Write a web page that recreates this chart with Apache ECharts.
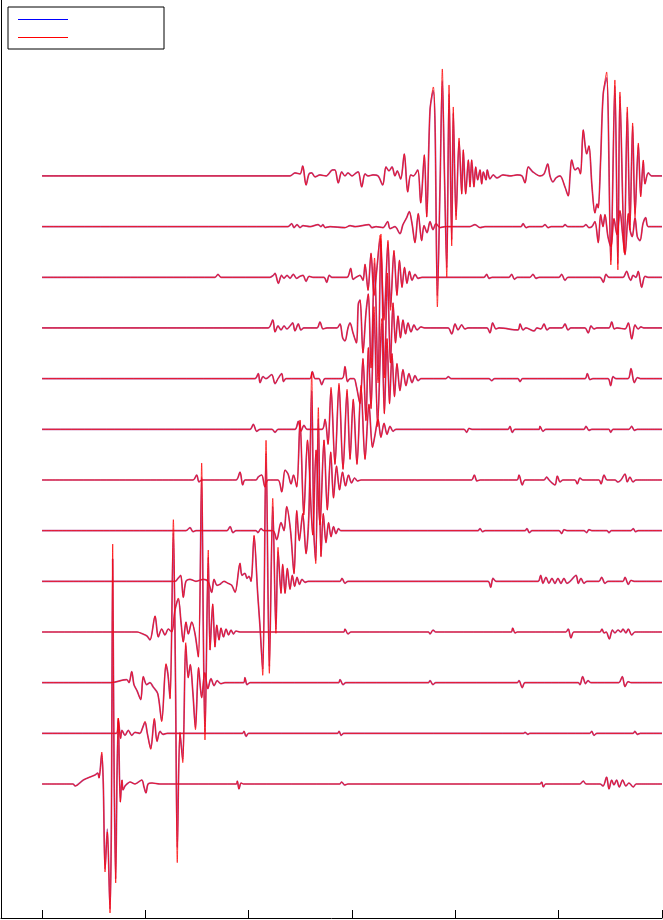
<!DOCTYPE html>
<html>
<head>
<meta charset="utf-8">
<script src="https://cdn.jsdelivr.net/npm/echarts@6.0.0/dist/echarts.min.js"></script>
<style>
  html, body { margin: 0; padding: 0; background: #fff; }
  #chart { width: 663px; height: 920px; }
</style>
</head>
<body>
<div id="chart"></div>
<script>
// each trace: [time, blue amplitude, red amplitude], bottom trace first
const trace00 = [[0,0,0],[30,0,0],[32,-2,-2],[40,4,4],[46.5,7,7],[51.3,9,9],[53.9,11,11],[55.2,6,6],[57.8,30,32],[59.3,0,0],[61,-85,-88],[63.2,-45,-48],[65.8,-125,-129],[67.1,-40,-40],[68.4,225,240],[69.7,20,20],[71.3,-95,-99],[72.6,10,10],[73.8,62,66],[75.8,-18,-18],[77.4,4,4],[78.4,-6,-6],[80.3,-2,-2],[82.2,0,0],[85.2,2,2],[90,0,0],[96.5,4,4],[98.7,-3,-3],[100.6,-9,-9],[102.6,0,0],[106.5,1,1],[114,0,0],[188,0,0],[189,3,3],[190.6,-5,-5],[192.6,1,1],[195,0,0],[288,0,0],[290,2,2],[293,-1,-1],[296,0,0],[482,0,0],[483.6,2,2],[485.1,-3,-3],[487.5,0,0],[520.6,0,0],[523.8,3,3],[526.5,0,0],[540,0,0],[543,-2,-2],[546.4,7,7],[548.7,-5,-5],[551.3,4,4],[553.5,-1,-1],[556.1,4,4],[558.6,-3,-3],[561.9,4,4],[565,-2,-2],[568,1,1],[572.2,-3,-3],[575,0,0],[600,0,0]];
const trace01 = [[0,0,0],[72,0,0],[73.8,14,15],[76,-5,-5],[77.4,3,3],[80.3,-2,-2],[83.5,3,3],[86.8,-2,-2],[90,1,1],[94.8,0,0],[96.8,4,4],[99.7,11,12],[101.9,0,0],[105.2,-15,-16],[108.7,14,15],[111.3,-8,-8],[114.2,2,2],[117.1,-1,-1],[121,0,0],[194,0,0],[195.5,2,2],[197.4,-3,-3],[200,0,0],[286,0,0],[287.5,2,2],[289.5,-2,-2],[292,0,0],[466,0,0],[467.4,1,1],[470.3,-1,-1],[472,0,0],[530,0,0],[532,2,2],[534.2,-2,-2],[537,0,0],[572,0,0],[573.8,2,2],[576,-1,-1],[579,0,0],[600,0,0]];
const trace02 = [[0,0,0],[66,0,0],[82,3,3],[84.2,0,0],[86.8,11,11],[89,-2,-2],[91.9,-8,-8],[95.5,-17,-17],[98,6,6],[101.3,-2,-2],[104.5,0,0],[107.4,-4,-4],[112,-11,-11],[115.8,-38,-39],[120,18,19],[121.9,8,8],[123.9,-16,-16],[127.1,150,163],[129.2,0,0],[130.9,-165,-180],[133.5,-50,-50],[136.2,-77,-80],[139.1,38,40],[141.5,5,5],[143.5,18,18],[146,-10,-10],[148.5,-45,-47],[151.5,15,15],[154.5,-15,-15],[157.5,10,10],[160.5,-6,-6],[163.5,4,4],[166.5,-3,-3],[169.5,2,2],[173,-1,-1],[177,0,0],[195,0,0],[196.4,5,5],[198.4,-2,-2],[201.3,0,0],[287,0,0],[288.4,3,3],[291.3,-2,-2],[294,0,0],[374,0,0],[375.5,2,2],[378.4,-2,-2],[381,0,0],[460,0,0],[461.6,2,2],[464.8,-5,-5],[467.4,0,0],[519,0,0],[520.6,-2,-2],[523.2,6,6],[526,-1,-1],[528.4,2,2],[531.3,0,0],[558,0,0],[559.3,1,1],[561.6,6,6],[564.2,-4,-4],[567.1,1,1],[570,0,0],[600,0,0]];
const trace03 = [[0,0,0],[92,0,0],[97.7,-2,-2],[101.6,-4,-4],[104.5,-8,-8],[109.4,16,16],[112.5,-5,-5],[115.8,3,3],[119,-3,-3],[122.2,3,3],[125.5,0,0],[128.7,22,22],[131.9,33,34],[134.5,10,10],[136.7,-10,-10],[139.3,10,10],[141.6,-2,-2],[144.9,10,10],[148.1,-2,-2],[151.3,-25,-25],[154.5,155,169],[156.1,0,0],[157.7,-100,-108],[160.9,75,82],[162.6,-18,-18],[165.2,28,28],[167.4,-15,-15],[169.1,7,7],[171.3,-8,-8],[173.2,4,4],[175.6,-5,-5],[178.1,3,3],[180.5,-3,-3],[182.9,2,2],[185.3,-2,-2],[187.7,1,1],[191.6,0,0],[292,0,0],[293.2,3,3],[296.1,-2,-2],[299,0,0],[374,0,0],[375.5,-2,-2],[378.4,2,2],[381,0,0],[454,0,0],[455.5,4,4],[457.7,-1,-1],[460,0,0],[507,0,0],[509.3,3,3],[511.9,-6,-6],[514.8,0,0],[540,0,0],[541.9,3,3],[543.8,-1,-1],[546,0,0],[549,-7,-7],[552,2,2],[554.5,-1,-1],[557.4,2,2],[560.3,0,0],[562.2,3,3],[565.1,-1,-1],[567.4,3,3],[570.7,-3,-3],[573.9,0,0],[600,0,0]];
const trace04 = [[0,0,0],[128.7,0,0],[131.6,3,3],[134.2,6,6],[136.7,-16,-16],[139.3,0,0],[143.2,2,2],[149,0,0],[156.1,2,2],[160.6,0,0],[164.2,-11,-11],[166.5,2,2],[169.4,-4,-4],[172.3,-3,-3],[176.1,0,0],[180,-2,-2],[183.6,-4,-4],[186.8,-11,-11],[191.6,18,18],[193.5,6,6],[196.4,8,8],[198.4,3,3],[200.3,5,5],[202.3,0,0],[205.2,45,46],[208.7,-12,-12],[211,-46,-46],[213.6,-88,-94],[216.8,128,141],[220,-85,-92],[223.3,75,83],[226.4,-48,-52],[228.4,30,34],[231.3,-12,-12],[232.9,17,17],[235.2,-12,-12],[237.4,13,13],[240,-8,-8],[242.2,6,6],[244.5,-5,-5],[246.8,4,4],[249.2,-3,-3],[251.6,2,2],[254.5,-1,-1],[257.4,0,0],[288.4,0,0],[290.3,3,3],[293.2,-2,-2],[296.1,0,0],[431.6,0,0],[434.2,-6,-6],[436.4,3,3],[439.3,0,0],[480,0,0],[482.6,6,6],[484.8,-2,-2],[487.7,4,4],[490.6,-2,-2],[493.5,3,3],[496.4,-2,-2],[499.3,3,3],[502.2,-2,-2],[505.1,3,3],[508,-2,-2],[511,0,0],[516.8,6,6],[519,-2,-2],[521.6,3,3],[524.5,-2,-2],[527.4,0,0],[539,0,0],[541.6,4,4],[544.8,-2,-2],[547.7,0,0],[562.2,0,0],[564.2,4,4],[567.4,-3,-3],[570,1,1],[572.9,0,0],[600,0,0]];
const trace05 = [[0,0,0],[139.3,0,0],[143.2,3,3],[146.1,-1,-1],[149,0,0],[179,0,0],[182,4,4],[184.8,-2,-2],[187.7,0,0],[207.1,0,0],[209,-2,-2],[211.9,2,2],[214.8,0,0],[223.5,0,0],[227.1,-9,-9],[231.3,8,8],[234.2,0,0],[236.8,24,24],[240.5,0,0],[243.9,-43,-43],[246.5,20,20],[249,-10,-10],[252.3,17,17],[255.5,-23,-23],[258.2,15,15],[261,140,158],[263,0,0],[264.9,-30,-33],[267.4,112,123],[270,-26,-26],[272.2,17,17],[274.8,-12,-12],[277.3,8,8],[279.7,-6,-6],[282.1,4,4],[284.5,-3,-3],[286.9,2,2],[289.3,0,0],[421.9,0,0],[423.9,2,2],[426.3,-1,-1],[428.7,0,0],[467.4,0,0],[469.3,2,2],[471.6,-2,-2],[474.2,0,0],[500.3,0,0],[502.9,-3,-3],[505.1,1,1],[508,0,0],[524.5,0,0],[527.1,-2,-2],[529.3,1,1],[532,0,0],[546.8,0,0],[548.7,-2,-2],[551,0,0],[569.9,0,0],[572.2,2,2],[574.3,-1,-1],[576.8,0,0],[600,0,0]];
const trace06 = [[0,0,0],[146.1,0,0],[149.7,5,5],[151.9,-2,-2],[154.8,0,0],[187.7,0,0],[191.6,8,8],[194.2,-5,-5],[196.4,0,0],[207.1,0,0],[209.3,3,3],[212.6,5,5],[215.8,-7,-7],[218.7,0,0],[228.4,0,0],[232,-12,-12],[235.2,10,10],[238.1,6,6],[241,-4,-4],[243.4,5,5],[246.5,-7,-7],[249.7,59,60],[253.3,-35,-35],[256.9,40,40],[262,-55,-55],[265.2,30,30],[269,-45,-45],[272.9,40,40],[276.1,-30,-30],[279.4,28,28],[282.1,-18,-18],[285,14,14],[287.9,-10,-10],[290.8,8,8],[293.7,-6,-6],[296.6,5,5],[299.5,-3,-3],[302.5,2,2],[305.3,-1,-1],[308.7,0,0],[415.6,0,0],[418.4,5,5],[420.9,-1,-1],[424,0,0],[459.7,0,0],[461.6,5,5],[464.8,-5,-5],[467.4,0,0],[485.8,0,0],[488.4,3,3],[490.6,0,0],[496.4,-5,-5],[498.7,4,4],[501.3,-2,-2],[504.2,0,0],[515.8,0,0],[518,-4,-4],[520.6,2,2],[523.5,0,0],[539,0,0],[541,-4,-4],[543.9,5,5],[546.8,0,0],[554.5,0,0],[557.4,-2,-2],[560.3,0,0],[564.2,6,6],[566.4,-2,-2],[569,3,3],[571.9,-2,-2],[574.8,0,0],[600,0,0]];
const trace07 = [[0,0,0],[201.3,0,0],[204.5,5,5],[207.7,-2,-2],[211,0,0],[222.6,0,0],[225.5,-3,-3],[228.4,0,0],[244.8,0,0],[248,8,8],[250.6,-2,-2],[253.5,4,4],[256.4,0,0],[271,0,0],[273.9,10,10],[276.8,-15,-15],[279.7,40,42],[283.5,-35,-35],[287.4,44,46],[291.3,-40,-40],[295.2,38,40],[298.1,-30,-30],[301.2,30,30],[304.8,-35,-35],[308.7,42,44],[312.6,-30,-30],[316.4,25,25],[319.8,-18,-18],[322.2,-6,-6],[325.2,10,10],[328,-8,-8],[331,6,6],[333.9,-5,-5],[336.8,3,3],[339.7,-2,-2],[342.6,0,0],[408.4,0,0],[411,-3,-3],[413.2,1,1],[416,0,0],[451,0,0],[452.9,3,3],[455.1,-3,-3],[457.7,0,0],[481,0,0],[481.9,3,3],[484.8,-2,-2],[487.5,0,0],[524.5,0,0],[526.4,3,3],[529.3,-1,-1],[532,0,0],[548.6,0,0],[550.3,-3,-3],[552.6,0,0],[568,0,0],[570.6,3,3],[573.2,-1,-1],[576,0,0],[600,0,0]];
const trace08 = [[0,0,0],[206.1,0,0],[209.3,5,5],[211,-4,-4],[213.9,2,2],[216.8,0,0],[222.3,4,4],[225.5,-5,-5],[228.4,0,0],[232,5,5],[233.7,-3,-3],[236.1,0,0],[259,0,0],[261.6,7,7],[264.2,0,0],[268,0,0],[270.7,-6,-6],[273.9,0,0],[290.3,0,0],[293.2,12,12],[295.6,-3,-3],[298.1,0,0],[301.9,0,0],[304.3,-8,-8],[307.7,-25,-25],[310.6,20,20],[313.5,-42,-42],[315.8,31,31],[318.4,-30,-30],[321.3,65,72],[324.8,-45,-48],[328.7,55,60],[331.3,-35,-35],[333.9,40,40],[336.3,-25,-25],[338.7,25,25],[341.1,-18,-18],[343.5,15,15],[346.4,-12,-12],[349.3,9,9],[352.2,-7,-7],[355.1,5,5],[358.1,-4,-4],[361,3,3],[363.9,-2,-2],[366.8,0,0],[390.9,0,0],[393.2,2,2],[396,0,0],[432.6,0,0],[435.2,-2,-2],[438,0,0],[460.6,0,0],[462.6,-3,-3],[465,0,0],[525.5,0,0],[527.7,5,5],[530.3,-1,-1],[533,0,0],[547.7,0,0],[550.3,-7,-7],[552.6,2,2],[555.5,0,0],[567.1,0,0],[570,10,10],[573.2,-4,-4],[576.2,1,1],[579,0,0],[600,0,0]];
const trace09 = [[0,0,0],[218.7,0,0],[223.3,8,8],[225.5,-4,-4],[228.4,2,2],[231.3,-2,-2],[234.2,2,2],[237.1,-1,-1],[240,2,2],[242.6,5,5],[244.8,-3,-3],[248,4,4],[250.6,-2,-2],[253.5,0,0],[266.1,0,0],[269,6,6],[271.9,-1,-1],[275.8,0,0],[285.5,0,0],[288.4,4,4],[291,-10,-10],[293.2,-13,-13],[296.1,0,0],[298.1,5,5],[301,-5,-5],[304.3,-15,-15],[306.1,24,24],[307.8,28,28],[310.6,-25,-25],[313.5,15,15],[315.8,34,34],[318.4,-40,-40],[321.8,65,70],[325.2,-52,-55],[328,88,94],[331.4,-47,-50],[334.3,52,55],[337.2,-35,-35],[339.7,25,25],[342.1,-15,-15],[344.5,12,12],[346.9,-10,-10],[349.3,8,8],[351.8,-6,-6],[354.2,5,5],[357.1,-4,-4],[360,3,3],[362.9,-2,-2],[366.8,1,1],[370.6,0,0],[392.9,0,0],[396.5,-6,-6],[399.7,4,4],[402.6,-2,-2],[406.1,3,3],[409.3,-1,-1],[412.2,0,0],[430.6,0,0],[433.5,-5,-5],[436.1,5,5],[439.3,-1,-1],[442.2,0,0],[460.6,-2,-2],[462.6,4,4],[465.5,-2,-2],[468.4,0,0],[476.1,-3,-3],[479,0,0],[482.9,-1,-1],[485.8,4,4],[488.7,-2,-2],[491.6,0,0],[503.2,0,0],[506.1,4,4],[509,-2,-2],[511.9,0,0],[525.5,0,0],[528.6,-5,-5],[531.3,2,2],[534.2,-1,-1],[537,0,0],[548.7,0,0],[551.3,6,6],[553.8,-1,-1],[556.4,0,0],[564.2,-1,-1],[567.4,5,5],[570.7,-11,-11],[573.9,3,3],[576.8,-1,-1],[579.7,1,1],[582.6,0,0],[600,0,0]];
const trace10 = [[0,0,0],[167.4,0,0],[170.3,3,3],[173.2,0,0],[220.6,0,0],[223.8,2,2],[225.5,4,4],[228.7,-6,-6],[231.8,2,2],[234.2,-1,-1],[237.1,2,2],[240,-1,-1],[243.2,3,3],[246.3,-1,-1],[249.7,1,1],[252.6,2,2],[255.5,-4,-4],[258.4,1,1],[262.3,0,0],[272.9,0,0],[275.5,-5,-5],[278,2,2],[280.6,0,0],[295.2,0,0],[298.7,9,9],[301,-2,-2],[303.9,0,0],[307.7,2,2],[310.6,-3,-3],[312.6,13,13],[315.5,-13,-13],[318.4,24,24],[321.3,-18,-18],[324.2,10,10],[327.1,38,42],[331,-40,-43],[334.8,35,37],[337.3,-30,-33],[340.6,26,27],[343.5,-18,-18],[345.9,17,17],[348.4,-10,-10],[350.8,10,10],[353.2,-6,-6],[355.6,6,6],[358.1,-3,-3],[361,3,3],[363.9,-1,-1],[367.7,0,0],[427.7,0,0],[430.3,3,3],[432.6,-1,-1],[435.5,0,0],[451.9,0,0],[454.5,3,3],[457.2,-2,-2],[460,0,0],[472.2,0,0],[475.1,3,3],[478,-1,-1],[481,0,0],[500.3,0,0],[502.9,3,3],[506.1,-3,-3],[509,0,0],[540,0,0],[543.2,-5,-5],[545.8,3,3],[548.7,0,0],[562.2,0,0],[565.8,6,6],[568,0,0],[569.9,-3,-3],[571.9,2,2],[574.8,0,0],[577,6,6],[580.3,-10,-10],[583.5,1,1],[586.5,0,0],[600,0,0]];
const trace11 = [[0,0,0],[238.1,0,0],[241.6,3,3],[243.9,-1,-1],[246.8,2,2],[249.7,-1,-1],[252.6,1,1],[259.4,0,0],[267.1,2,2],[270,0,0],[271.9,2,2],[273.9,-1,-1],[278.7,0,0],[293.2,-1,-1],[298.1,1,1],[303,0,0],[316.4,2,2],[319.3,-1,-1],[323.2,0,0],[330,-1,-1],[334.5,5,5],[336.8,-2,-2],[341.6,0,0],[346.4,-7,-7],[349.3,2,2],[352.9,9,9],[355.4,15,15],[358.1,3,3],[360.9,-16,-16],[364.1,13,13],[367.4,-14,-14],[369.7,1,1],[372.6,-6,-6],[375.5,5,5],[378.4,-3,-3],[381.3,3,3],[385.2,-1,-1],[390,0,0],[414.2,0,0],[419,2,2],[423.9,-1,-1],[428.7,0,0],[463.5,0,0],[465.5,3,3],[468.4,-1,-1],[471.3,0,0],[483.9,0,0],[486.8,2,2],[489.7,-1,-1],[492.6,0,0],[504.2,0,0],[506.1,2,2],[509,0,0],[523.5,0,0],[526.4,2,2],[529.3,-1,-1],[532.2,0,0],[535.1,5,5],[538.3,-16,-16],[540.6,12,12],[542.9,0,0],[544.8,12,12],[547.7,-10,-10],[550.6,-20,-20],[553.5,8,8],[556.4,-8,-8],[559.3,16,16],[561.9,-8,-8],[564.2,-28,-28],[567.4,13,13],[569,-3,-3],[571.2,-10,-10],[573.9,9,9],[576.1,-10,-10],[578.7,-14,-14],[581.6,3,3],[584.2,9,9],[586.7,0,0],[600,0,0]];
const trace12 = [[0,0,0],[240,0,0],[244.8,3,3],[249.7,2,2],[252.3,10,10],[255.5,-9,-9],[258.4,2,2],[261,3,3],[264.2,-1,-1],[269,1,1],[274.8,0,0],[281.3,6,6],[283.5,6,6],[286.7,-7,-7],[290,4,4],[293.2,0,0],[296.1,3,3],[300,0,0],[303.9,3,3],[306.1,4,4],[309.4,-11,-11],[312.6,2,2],[315.5,0,0],[320.3,1,1],[325.2,0,0],[329.7,-9,-9],[332.9,9,9],[335.8,5,5],[338.7,9,9],[341.6,0,0],[343.8,5,5],[347.1,-3,-3],[350.6,22,22],[353.9,-16,-16],[356.8,1,1],[359.3,0,0],[363.6,6,6],[366.5,-27,-27],[370,21,21],[372.3,-41,-41],[375.5,66,66],[378.7,85,89],[380.4,49,49],[382.6,-120,-131],[385.2,-10,-10],[387.4,95,107],[389.5,0,0],[391.7,-92,-101],[393.9,82,91],[396.5,-64,-70],[398,63,69],[400.7,-40,-44],[403.6,35,38],[406.2,-18,-18],[407.7,26,26],[410,-18,-18],[412.6,16,16],[414.2,-11,-11],[415.8,16,16],[418,-11,-11],[419.7,9,9],[421.6,-4,-4],[423.9,6,6],[425.5,-8,-8],[427.1,4,4],[429.7,-4,-4],[430.9,6,6],[433.5,-3,-3],[436.7,1,1],[440.3,-2,-2],[446.1,1,1],[452.9,0,0],[459.7,1,1],[464.5,0,0],[467.4,-7,-7],[470.6,9,9],[475.1,4,4],[481.9,0,0],[485.8,2,2],[489.4,12,12],[491.6,0,0],[494.5,-6,-6],[497.4,-2,-2],[501.3,0,0],[506.1,-11,-11],[509.3,-20,-20],[511,0,0],[512.6,16,16],[515.8,6,6],[518.7,8,8],[521.1,2,2],[523.8,46,46],[527.1,22,22],[529.3,30,30],[532.2,-10,-10],[535.1,-37,-37],[537.1,-28,-28],[538.3,-32,-32],[540.6,16,16],[543.1,82,82],[546.4,98,104],[550.5,-85,-89],[554.4,90,96],[557.3,-88,-94],[559.3,80,84],[563.5,-72,-77],[566.4,64,69],[569,-50,-54],[571.6,50,53],[573.9,-38,-41],[577.1,31,33],[579.4,-20,-21],[581.9,15,16],[583.5,-8,-8],[586.7,3,3],[590,0,0],[600,0,0]];

const traces = [trace00, trace01, trace02, trace03, trace04, trace05, trace06,
  trace07, trace08, trace09, trace10, trace11, trace12];
const seriesNames = ['blue', 'red'];
const SPACING = 50.67; // vertical offset between traces

const chart = echarts.init(document.getElementById('chart'));
window.addEventListener('resize', () => {
  chart.resize();
});

const blueSeries = traces.map((tr, k) => ({
  name: seriesNames[0],
  type: 'line',
  data: tr.map(p => [p[0], p[1] + k * SPACING]),
  showSymbol: false,
  symbol: 'none',
  smooth: 0.3,
  silent: true,
  z: 2,
  lineStyle: { color: '#b2529c', width: 1.7 }
}));
const redSeries = traces.map((tr, k) => ({
  name: seriesNames[1],
  type: 'line',
  data: tr.map(p => [p[0], p[2] + k * SPACING]),
  showSymbol: false,
  symbol: 'none',
  smooth: 0.3,
  silent: true,
  z: 3,
  lineStyle: { color: '#ff0000', width: 1, opacity: 0.75 }
}));

chart.setOption({
  animation: false,
  grid: { left: 1, right: 1, top: 0, bottom: 2 },
  legend: {
    left: 8,
    top: 7,
    orient: 'vertical',
    padding: [12, 96, 11, 10],
    itemWidth: 50,
    itemHeight: 1,
    itemGap: 17,
    icon: 'rect',
    selectedMode: false,
    borderColor: '#000',
    borderWidth: 1,
    formatter: () => '',
    data: [
      { name: seriesNames[0], itemStyle: { color: '#0000ff' } },
      { name: seriesNames[1], itemStyle: { color: '#ff0000' } }
    ]
  },
  xAxis: {
    type: 'value',
    min: -39.7,
    max: 600,
    axisLine: { onZero: false, lineStyle: { color: '#000', width: 1 } },
    axisTick: { inside: true, length: 8, lineStyle: { color: '#000' } },
    axisLabel: { show: false },
    splitLine: { show: false }
  },
  yAxis: {
    type: 'value',
    min: -134,
    max: 784,
    axisLine: { show: true, onZero: false, lineStyle: { color: '#000', width: 1 } },
    axisTick: { show: false },
    axisLabel: { show: false },
    splitLine: { show: false }
  },
  series: blueSeries.concat(redSeries)
});
</script>
</body>
</html>
